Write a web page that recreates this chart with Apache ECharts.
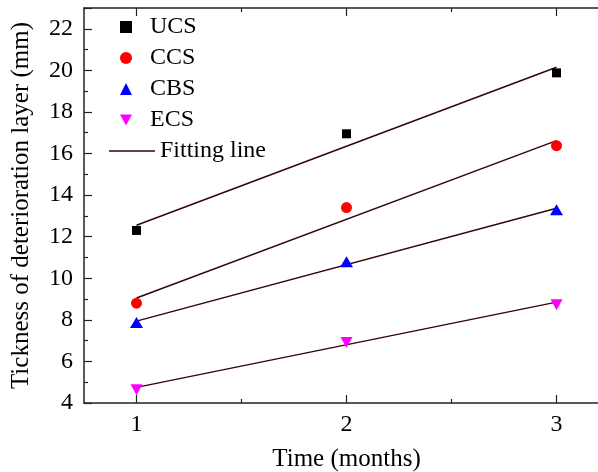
<!DOCTYPE html>
<html style="height: 100%">
<head>
<meta charset="utf-8">
<script src="https://cdn.jsdelivr.net/npm/echarts@6/dist/echarts.min.js"></script>
</head>
<body style="height: 100%; margin: 0; background: #fff">
<div id="container" style="width: 598px; height: 472px"></div>
<script>
// measured values (months -> mm)
var months = [1, 2, 3];
var ucs = [12.3, 16.95, 19.88];
var ccs = [8.8, 13.4, 16.38];
var cbs = [7.87, 10.8, 13.3];
var ecs = [4.64, 6.91, 8.72];

// fitting lines, value at month 1 and month 3
var fitMonths = [1, 3];
var ucsFit = [12.55, 20.15];
var ccsFit = [9.05, 16.62];
var cbsFit = [7.94, 13.37];
var ecsFit = [4.75, 8.85];

var xLabels = [1, 2, 3];
var xMinor = [1.5, 2.5];

function pairs(xs, ys) {
    return xs.map(function (x, i) { return [x, ys[i]]; });
}

var font = 'Liberation Serif';
var axisColor = '#222';
var fitColor = '#330505';

var dom = document.getElementById('container');
var myChart = echarts.init(dom);

function fitSeries(vals) {
    return {
        name: 'Fitting line',
        type: 'line',
        data: pairs(fitMonths, vals),
        symbol: 'none',
        lineStyle: { color: fitColor, width: 1.4 },
        itemStyle: { color: fitColor },
        z: 2,
        animation: false
    };
}

function scatterSeries(name, vals, symbol, size, color) {
    return {
        name: name,
        type: 'scatter',
        data: pairs(months, vals),
        symbol: symbol,
        symbolSize: size,
        itemStyle: { color: color, opacity: 1 },
        z: 5,
        animation: false
    };
}

var downTri = 'path://M0,0 L12,0 L6,11 Z';

var option = {
    backgroundColor: '#fff',
    textStyle: { fontFamily: font },
    grid: { left: 84, top: 8, width: 525, height: 395, outerBoundsMode: 'none' },
    legend: [
        {
            orient: 'vertical',
            left: 115,
            top: 10,
            itemWidth: 12,
            itemHeight: 12,
            itemGap: 7,
            data: [
                { name: 'UCS', icon: 'rect' },
                { name: 'CCS', icon: 'circle' },
                { name: 'CBS', icon: 'triangle' },
                { name: 'ECS', icon: downTri }
            ],
            textStyle: { fontFamily: font, fontSize: 24, color: '#000', padding: [0, 0, 0, 13] }
        },
        {
            left: 104,
            top: 134,
            itemWidth: 46,
            itemHeight: 1.5,
            data: [{ name: 'Fitting line', icon: 'rect' }],
            itemStyle: { color: fitColor },
            textStyle: { fontFamily: font, fontSize: 24, color: '#000' }
        }
    ],
    xAxis: [
        {
            type: 'value', position: 'bottom', min: 0.75, max: 3.25,
            name: 'Time (months)', nameLocation: 'middle', nameGap: 44,
            nameTextStyle: {
                fontFamily: font, fontSize: 25, color: '#000',
                rich: { p: { fontFamily: font, fontSize: 20, color: '#000' } }
            },
            axisLine: { lineStyle: { color: axisColor, width: 1.5 } },
            axisTick: { inside: true, length: 8, customValues: xLabels, lineStyle: { color: axisColor, width: 1.2 } },
            axisLabel: { customValues: xLabels, fontFamily: font, fontSize: 24, color: '#000', margin: 10 },
            splitLine: { show: false }
        },
        {
            type: 'value', position: 'bottom', min: 0.75, max: 3.25,
            axisLine: { show: false },
            axisTick: { inside: true, length: 4, customValues: xMinor, lineStyle: { color: axisColor, width: 1.2 } },
            axisLabel: { show: false },
            splitLine: { show: false }
        },
        {
            type: 'value', position: 'top', min: 0.75, max: 3.25,
            axisLine: { lineStyle: { color: axisColor, width: 1.5 } },
            axisTick: { inside: true, length: 8, customValues: xLabels, lineStyle: { color: axisColor, width: 1.2 } },
            axisLabel: { show: false },
            splitLine: { show: false }
        },
        {
            type: 'value', position: 'top', min: 0.75, max: 3.25,
            axisLine: { show: false },
            axisTick: { inside: true, length: 4, customValues: xMinor, lineStyle: { color: axisColor, width: 1.2 } },
            axisLabel: { show: false },
            splitLine: { show: false }
        }
    ],
    yAxis: {
        type: 'value', min: 4, max: 23, interval: 2,
        name: 'Tickness of deterioration layer (mm)',
        nameLocation: 'middle', nameGap: 50,
        nameTextStyle: { fontFamily: font, fontSize: 25, color: '#000' },
        axisLine: { show: true, lineStyle: { color: axisColor, width: 1.5 } },
        axisTick: { show: true, inside: true, length: 8, lineStyle: { color: axisColor, width: 1.2 } },
        minorTick: { show: true, splitNumber: 2, length: 4, lineStyle: { color: axisColor, width: 1.2 } },
        axisLabel: {
            fontFamily: font, fontSize: 24, color: '#000', margin: 11,
            formatter: function (v) { return v >= 23 ? '' : v; }
        },
        splitLine: { show: false }
    },
    series: [
        fitSeries(ucsFit),
        fitSeries(ccsFit),
        fitSeries(cbsFit),
        fitSeries(ecsFit),
        scatterSeries('UCS', ucs, 'rect', 9, '#000'),
        scatterSeries('CCS', ccs, 'circle', 11, '#ff0000'),
        scatterSeries('CBS', cbs, 'triangle', [13, 11], '#0000ff'),
        scatterSeries('ECS', ecs, downTri, [12, 11], '#ff00ff')
    ]
};

myChart.setOption(option);
</script>
</body>
</html>
